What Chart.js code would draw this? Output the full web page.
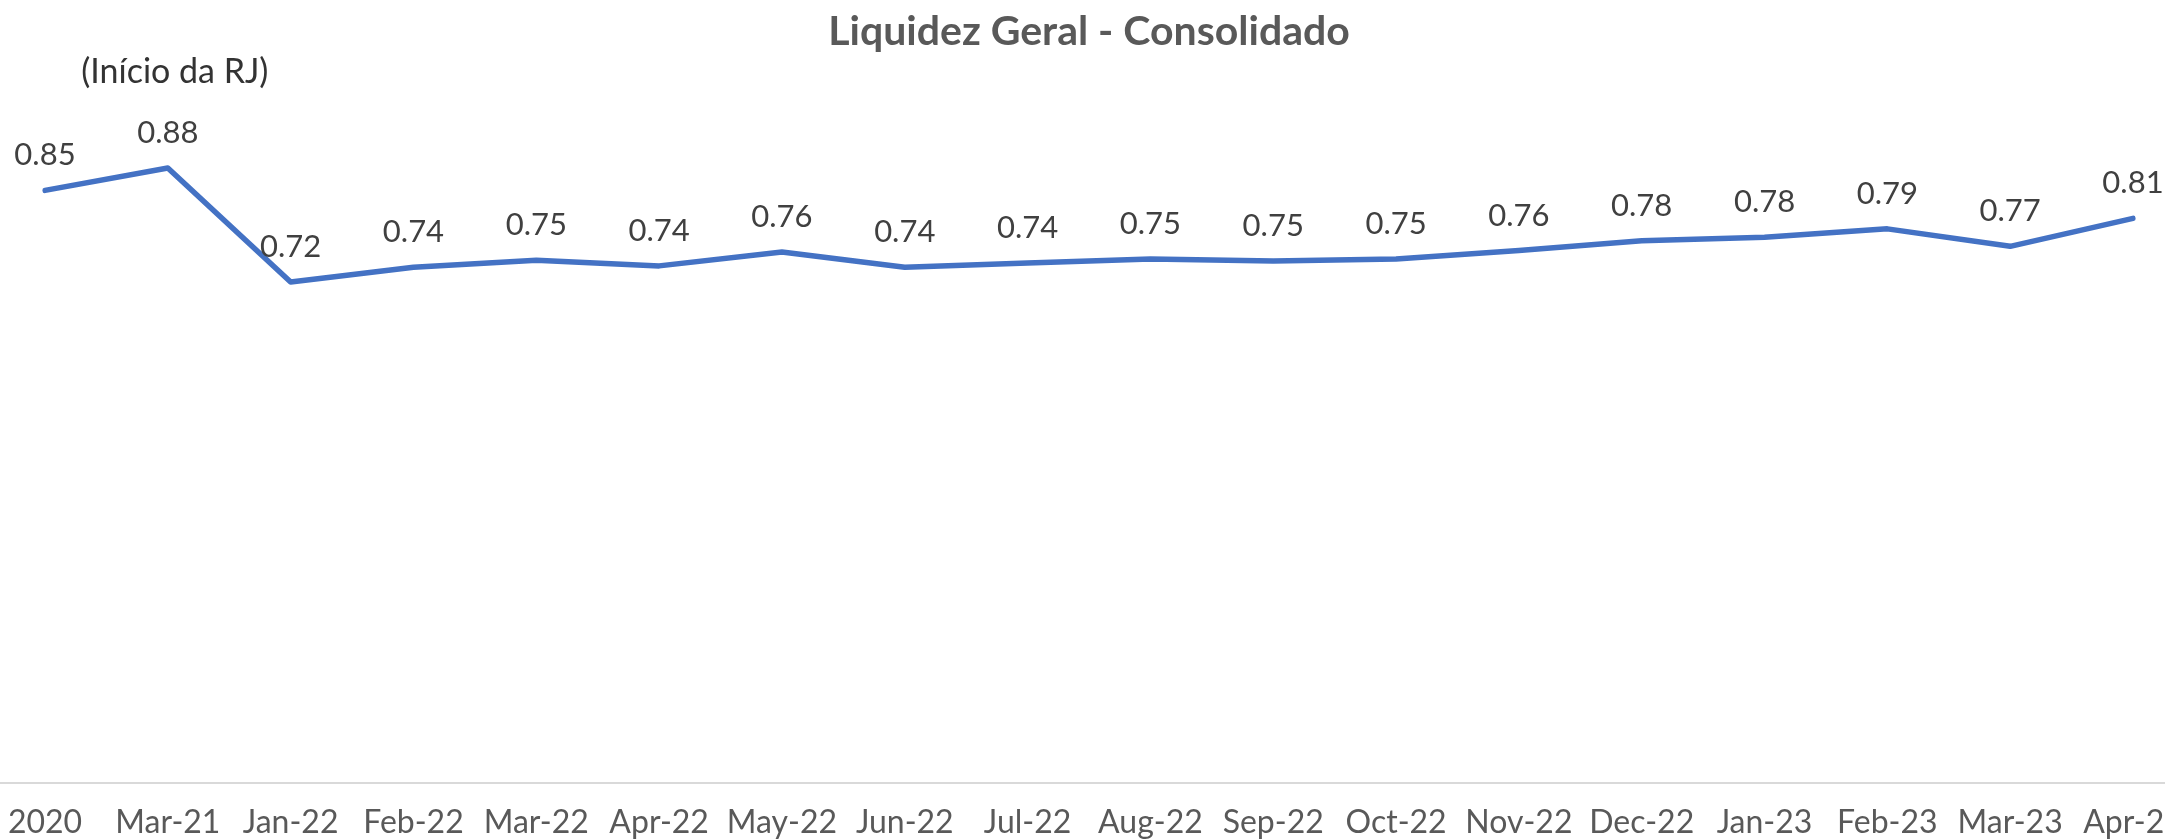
<!DOCTYPE html>
<html>
<head>
<meta charset="utf-8">
<script src="https://cdn.jsdelivr.net/npm/chart.js@4/dist/chart.umd.min.js"></script>
<style>
  html, body { margin: 0; padding: 0; background: #ffffff; overflow: hidden; }
  #wrap { width: 2200px; height: 839px; }
</style>
</head>
<body>
<div id="wrap"><canvas id="chart" width="2200" height="839"></canvas></div>
<script>
var months = ["2020", "Mar-21", "Jan-22", "Feb-22", "Mar-22", "Apr-22", "May-22", "Jun-22", "Jul-22",
              "Aug-22", "Sep-22", "Oct-22", "Nov-22", "Dec-22", "Jan-23", "Feb-23", "Mar-23", "Apr-23"];

var liquidez = [0.848, 0.880, 0.717, 0.738, 0.748, 0.740, 0.760, 0.738, 0.744,
                0.750, 0.747, 0.750, 0.762, 0.776, 0.781, 0.793, 0.768, 0.808];

var noteText = "(Início da RJ)";
var noteIndex = 1;

var FONT = "Lato, 'Open Sans', sans-serif";

// line across the full width at the bottom of the plot
var axisLine = {
    id: 'axisLine',
    beforeDatasetsDraw: function(chart) {
        var ctx = chart.ctx;
        var y = chart.chartArea.bottom;
        ctx.save();
        ctx.strokeStyle = '#d9d9d9';
        ctx.lineWidth = 2;
        ctx.beginPath();
        ctx.moveTo(0, y);
        ctx.lineTo(chart.width, y);
        ctx.stroke();
        ctx.restore();
    }
};

// value labels above each point + the RJ note
var pointLabels = {
    id: 'pointLabels',
    afterDatasetsDraw: function(chart) {
        var ctx = chart.ctx;
        var meta = chart.getDatasetMeta(0);
        ctx.save();
        ctx.font = "31px " + FONT;
        ctx.fillStyle = '#404040';
        ctx.textAlign = 'center';
        ctx.textBaseline = 'alphabetic';
        for (var i = 0; i < meta.data.length; i++) {
            var pt = meta.data[i];
            ctx.fillText(liquidez[i].toFixed(2), pt.x, pt.y - 25);
        }
        var p = meta.data[noteIndex];
        ctx.font = "34px " + FONT;
        ctx.fillStyle = '#333333';
        ctx.fillText(noteText, p.x + 7, p.y - 85);
        ctx.restore();
    }
};

var ctx = document.getElementById('chart').getContext('2d');

var myChart = new Chart(ctx, {
    type: 'line',
    data: {
        labels: months,
        datasets: [{
            label: 'Liquidez Geral',
            data: liquidez,
            borderColor: '#4472C4',
            backgroundColor: '#4472C4',
            borderWidth: 5.5,
            borderCapStyle: 'round',
            borderJoinStyle: 'round',
            pointRadius: 0,
            tension: 0,
            fill: false
        }]
    },
    options: {
        responsive: false,
        animation: false,
        devicePixelRatio: 1,
        layout: { padding: { left: 45, right: 67, top: 0, bottom: 0 } },
        plugins: {
            legend: { display: false },
            tooltip: { enabled: false },
            title: {
                display: true,
                text: 'Liquidez Geral - Consolidado',
                color: '#595959',
                font: { family: FONT, size: 41, weight: 'bold', lineHeight: 1.2 },
                padding: { top: 7, bottom: 28 }
            }
        },
        scales: {
            x: {
                offset: false,
                grid: { display: false, drawTicks: true, tickLength: 24 },
                border: { display: false },
                ticks: {
                    color: '#595959',
                    font: { family: FONT, size: 32, lineHeight: 1.0 },
                    padding: 0,
                    maxRotation: 0,
                    autoSkip: false
                }
            },
            y: {
                display: false,
                min: 0,
                max: 1
            }
        }
    },
    plugins: [axisLine, pointLabels]
});
</script>
</body>
</html>
